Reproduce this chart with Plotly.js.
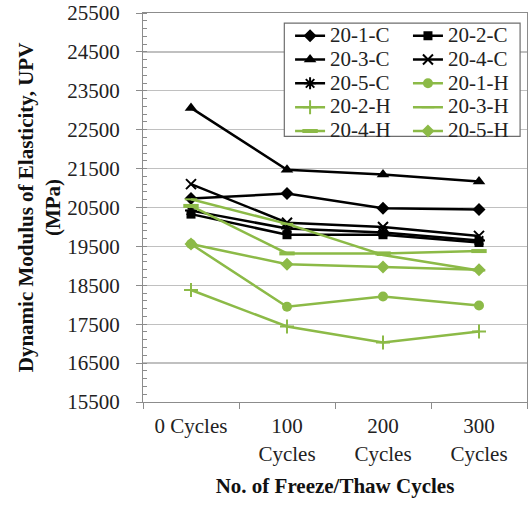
<!DOCTYPE html>
<html>
<head>
<meta charset="utf-8">
<script src="https://cdn.plot.ly/plotly-3.0.1.min.js"></script>
<style>html,body{margin:0;padding:0;background:#fff;}#chart{width:532px;height:519px;}</style>
</head>
<body>
<div id="chart"></div>
<script>
// Categories (x axis)
const categories = ['0 Cycles', '100<br>Cycles', '200<br>Cycles', '300<br>Cycles'];
// Series names
const seriesNames = ['20-1-C', '20-2-C', '20-3-C', '20-4-C', '20-5-C', '20-1-H', '20-2-H', '20-3-H', '20-4-H', '20-5-H'];
// Values (MPa)
const c1 = [20730, 20860, 20480, 20450];
const c2 = [20330, 19800, 19800, 19600];
const c3 = [23060, 21470, 21350, 21170];
const c4 = [21100, 20110, 20000, 19770];
const c5 = [20420, 19960, 19860, 19650];
const h1 = [19560, 17950, 18210, 17980];
const h2 = [18380, 17440, 17030, 17310];
const h3 = [20710, 20080, 19280, 18880];
const h4 = [20540, 19320, 19320, 19380];
const h5 = [19560, 19040, 18970, 18900];
// Y axis tick values
const yTicks = [15500, 16500, 17500, 18500, 19500, 20500, 21500, 22500, 23500, 24500, 25500];

const BLACK = '#000000';
const GREEN = '#8cba47';
const FONT = 'Liberation Serif, Times New Roman, serif';

const styles = [
  {c: BLACK, sym: 'diamond', size: 10, lw: 0},
  {c: BLACK, sym: 'square', size: 9, lw: 0},
  {c: BLACK, sym: 'triangle-up', size: 11, lw: 0},
  {c: BLACK, sym: 'x-thin', size: 10, lw: 2},
  {c: BLACK, sym: 'asterisk', size: 10, lw: 2},
  {c: GREEN, sym: 'circle', size: 10, lw: 0},
  {c: GREEN, sym: 'cross-thin', size: 10, lw: 2},
  {c: GREEN, sym: 'line-ew', size: 9, lw: 2},
  {c: GREEN, sym: 'line-ew', size: 11, lw: 4},
  {c: GREEN, sym: 'diamond', size: 10, lw: 0}
];
const values = [c1, c2, c3, c4, c5, h1, h2, h3, h4, h5];
// column assignment of legend entries (row-major in two columns)
const legendCol = ['legend', 'legend2', 'legend', 'legend2', 'legend', 'legend2', 'legend', 'legend2', 'legend', 'legend2'];

const traces = values.map((v, i) => ({
  type: 'scatter',
  mode: 'lines+markers',
  x: categories,
  y: v,
  name: '<span style="font-size:21px">' + seriesNames[i] + '</span>',
  legend: legendCol[i],
  line: {color: styles[i].c, width: 2.5},
  marker: {
    symbol: styles[i].sym,
    size: styles[i].size,
    color: styles[i].c,
    line: {color: styles[i].c, width: styles[i].lw}
  }
}));

const layout = {
  width: 532,
  height: 519,
  margin: {l: 143, r: 5, t: 13, b: 117, pad: 0},
  paper_bgcolor: '#ffffff',
  plot_bgcolor: '#ffffff',
  font: {family: FONT, size: 21, color: '#222'},
  showlegend: true,
  xaxis: {
    type: 'category',
    categoryorder: 'array',
    categoryarray: categories,
    range: [-0.5, 3.5],
    autorange: false,
    tickson: 'boundaries',
    ticks: 'outside',
    ticklen: 6,
    tickcolor: '#8c8c8c',
    showline: true,
    linecolor: '#8c8c8c',
    linewidth: 1,
    mirror: true,
    showgrid: false,
    zeroline: false,
    automargin: false,
    ticklabelstandoff: 5,
    tickfont: {family: FONT, size: 21, color: '#222'},
    title: {text: 'No. of Freeze/Thaw Cycles', standoff: 13, font: {family: FONT, size: 21, weight: 'bold', color: '#111'}}
  },
  yaxis: {
    range: [15500, 25500],
    autorange: false,
    tickmode: 'array',
    tickvals: yTicks,
    ticktext: yTicks.map(String),
    ticks: 'outside',
    ticklen: 6,
    tickcolor: '#8c8c8c',
    showline: true,
    linecolor: '#8c8c8c',
    linewidth: 1,
    mirror: true,
    showgrid: true,
    gridcolor: '#c0c0c0',
    gridwidth: 1.3,
    zeroline: false,
    automargin: false,
    ticklabelstandoff: 12,
    minor: {dtick: 200, tick0: 15500, ticks: 'inside', ticklen: 4, tickcolor: '#8c8c8c', showgrid: false},
    tickfont: {family: FONT, size: 21, color: '#222'},
    title: {text: 'Dynamic Modulus of Elasticity, UPV<br>(MPa)', standoff: 0, font: {family: FONT, size: 21, weight: 'bold', color: '#111'}}
  },
  legend: {
    x: 0.383, xanchor: 'left', y: 0.985, yanchor: 'top',
    bgcolor: 'rgba(0,0,0,0)', borderwidth: 0,
    font: {family: FONT, size: 16, color: '#222'},
    tracegroupgap: 0
  },
  legend2: {
    x: 0.69, xanchor: 'left', y: 0.985, yanchor: 'top',
    bgcolor: 'rgba(0,0,0,0)', borderwidth: 0,
    font: {family: FONT, size: 16, color: '#222'},
    tracegroupgap: 0
  },
  shapes: [{
    type: 'rect', xref: 'paper', yref: 'paper',
    x0: 0.368, x1: 0.982, y0: 0.683, y1: 0.974,
    line: {color: '#6e6e6e', width: 1.2},
    fillcolor: '#ffffff', layer: 'above'
  }]
};

Plotly.newPlot('chart', traces, layout, {displayModeBar: false, staticPlot: true});
</script>
</body>
</html>
